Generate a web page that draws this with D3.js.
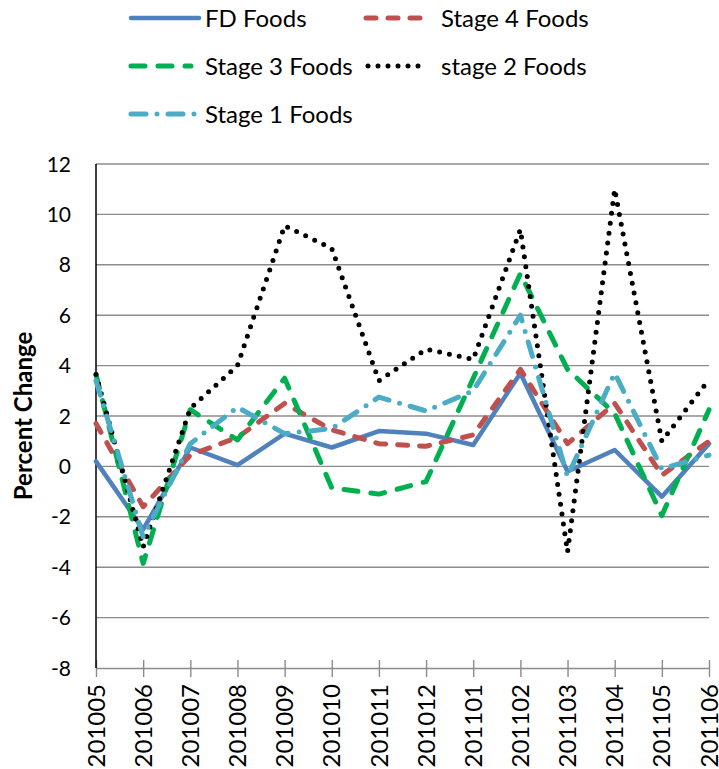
<!DOCTYPE html>
<html>
<head>
<meta charset="utf-8">
<script src="https://cdn.jsdelivr.net/npm/d3@7"></script>
<style>
  body { margin: 0; background: #fff; }
  text { font-family: Lato, "Open Sans", sans-serif; fill: #000; }
</style>
</head>
<body>
<div id="chart"></div>
<script>
// month labels (yyyymm)
const months = ["201005", "201006", "201007", "201008", "201009", "201010", "201011",
                "201012", "201101", "201102", "201103", "201104", "201105", "201106"];

// percent change per series
const fdFoods = [0.2, -2.5, 0.75, 0.05, 1.3, 0.75, 1.4, 1.3, 0.85, 3.7, -0.2, 0.65, -1.2, 0.9];
const stage4Foods = [1.7, -1.6, 0.45, 1.15, 2.5, 1.45, 0.9, 0.8, 1.25, 3.85, 0.9, 2.5, -0.35, 1.0];
const stage3Foods = [3.65, -3.85, 2.25, 1.05, 3.5, -0.85, -1.1, -0.6, 3.5, 7.65, 3.85, 2.1, -1.95, 2.25];
const stage2Foods = [3.65, -3.2, 2.3, 4.0, 9.55, 8.65, 3.4, 4.65, 4.25, 9.4, -3.4, 11.0, 1.0, 3.45];
const stage1Foods = [3.4, -2.8, 0.9, 2.35, 1.3, 1.5, 2.75, 2.2, 3.0, 6.0, -0.4, 3.7, -0.1, 0.45];

const yTicks = [-8, -6, -4, -2, 0, 2, 4, 6, 8, 10, 12];

let series = [
    {name: "FD Foods", values: fdFoods, color: "#4F81BD", width: 4.5, dash: null},
    {name: "Stage 4 Foods", values: stage4Foods, color: "#C0504D", width: 5, dash: "10 12"},
    {name: "Stage 3 Foods", values: stage3Foods, color: "#00B050", width: 5, dash: "14 13"},
    {name: "stage 2 Foods", values: stage2Foods, color: "#000000", width: 5, dash: "0 10"},
    {name: "Stage 1 Foods", values: stage1Foods, color: "#4BACC6", width: 5, dash: "15 11 0 11"}
];

let width = 719, height = 769;

let svg = d3.select("#chart").append("svg")
    .attr("width", width)
    .attr("height", height);

let x = d3.scalePoint()
    .domain(months)
    .range([96, 709]);

let y = d3.scaleLinear()
    .domain([-8, 12])
    .range([668, 164]);

// horizontal gridlines
svg.append("g")
    .selectAll("line")
    .data(yTicks.filter(d => d !== -8))
    .enter()
    .append("line")
    .attr("x1", 96)
    .attr("x2", 709)
    .attr("y1", d => y(d))
    .attr("y2", d => y(d))
    .style("stroke", "#8c8c8c")
    .style("stroke-width", 1.4);

// x axis (gray, ticks crossing)
let xAxis = svg.append("g")
    .attr("transform", `translate(0, ${y(-8)})`)
    .call(d3.axisBottom(x).tickSizeInner(8).tickSizeOuter(0).tickFormat(""));
xAxis.select(".domain").style("stroke", "#8c8c8c").style("stroke-width", 1.6);
xAxis.selectAll(".tick line")
    .attr("y1", -8)
    .attr("y2", 9)
    .style("stroke", "#8c8c8c")
    .style("stroke-width", 1.4);

// x labels, rotated
svg.append("g")
    .selectAll("text")
    .data(months)
    .enter()
    .append("text")
    .attr("transform", d => `translate(${x(d)}, 684) rotate(-90)`)
    .attr("text-anchor", "end")
    .attr("dy", "0.36em")
    .style("font-size", "24px")
    .text(d => d);

// y axis line
svg.append("line")
    .attr("x1", 96).attr("x2", 96)
    .attr("y1", y(12)).attr("y2", y(-8))
    .style("stroke", "#000")
    .style("stroke-width", 1.5);

// y labels
svg.append("g")
    .selectAll("text")
    .data(yTicks)
    .enter()
    .append("text")
    .attr("x", 71)
    .attr("y", d => y(d))
    .attr("dy", "0.36em")
    .attr("text-anchor", "end")
    .style("font-size", "21px")
    .text(d => d);

// axis title
svg.append("text")
    .attr("transform", `translate(23, 416) rotate(-90)`)
    .attr("text-anchor", "middle")
    .attr("dy", "0.36em")
    .style("font-size", "24px")
    .style("font-weight", "bold")
    .text("Percent Change");

// lines
let line = d3.line()
    .x((d, i) => x(months[i]))
    .y(d => y(d));

svg.append("g")
    .selectAll("path")
    .data(series)
    .enter()
    .append("path")
    .attr("d", d => line(d.values))
    .style("fill", "none")
    .style("stroke", d => d.color)
    .style("stroke-width", d => d.width)
    .style("stroke-dasharray", d => d.dash)
    .style("stroke-linecap", "round")
    .style("stroke-linejoin", "round");

// legend
let legendPos = [
    {x: 131, y: 18, len: 68},
    {x: 366, y: 18, len: 61},
    {x: 131, y: 66, len: 60},
    {x: 368, y: 66, len: 60},
    {x: 131, y: 114, len: 66}
];

let legend = svg.append("g")
    .selectAll("g")
    .data(series)
    .enter()
    .append("g")
    .attr("transform", (d, i) => `translate(${legendPos[i].x}, ${legendPos[i].y})`);

legend.append("line")
    .attr("x1", 0)
    .attr("x2", (d, i) => legendPos[i].len)
    .style("stroke", d => d.color)
    .style("stroke-width", d => d.width)
    .style("stroke-dasharray", d => d.dash)
    .style("stroke-linecap", "round");

legend.append("text")
    .attr("x", (d, i) => i % 2 === 0 ? 74 : (i === 3 ? 73 : 75))
    .attr("dy", "0.36em")
    .style("font-size", "24px")
    .text(d => d.name);
</script>
</body>
</html>
